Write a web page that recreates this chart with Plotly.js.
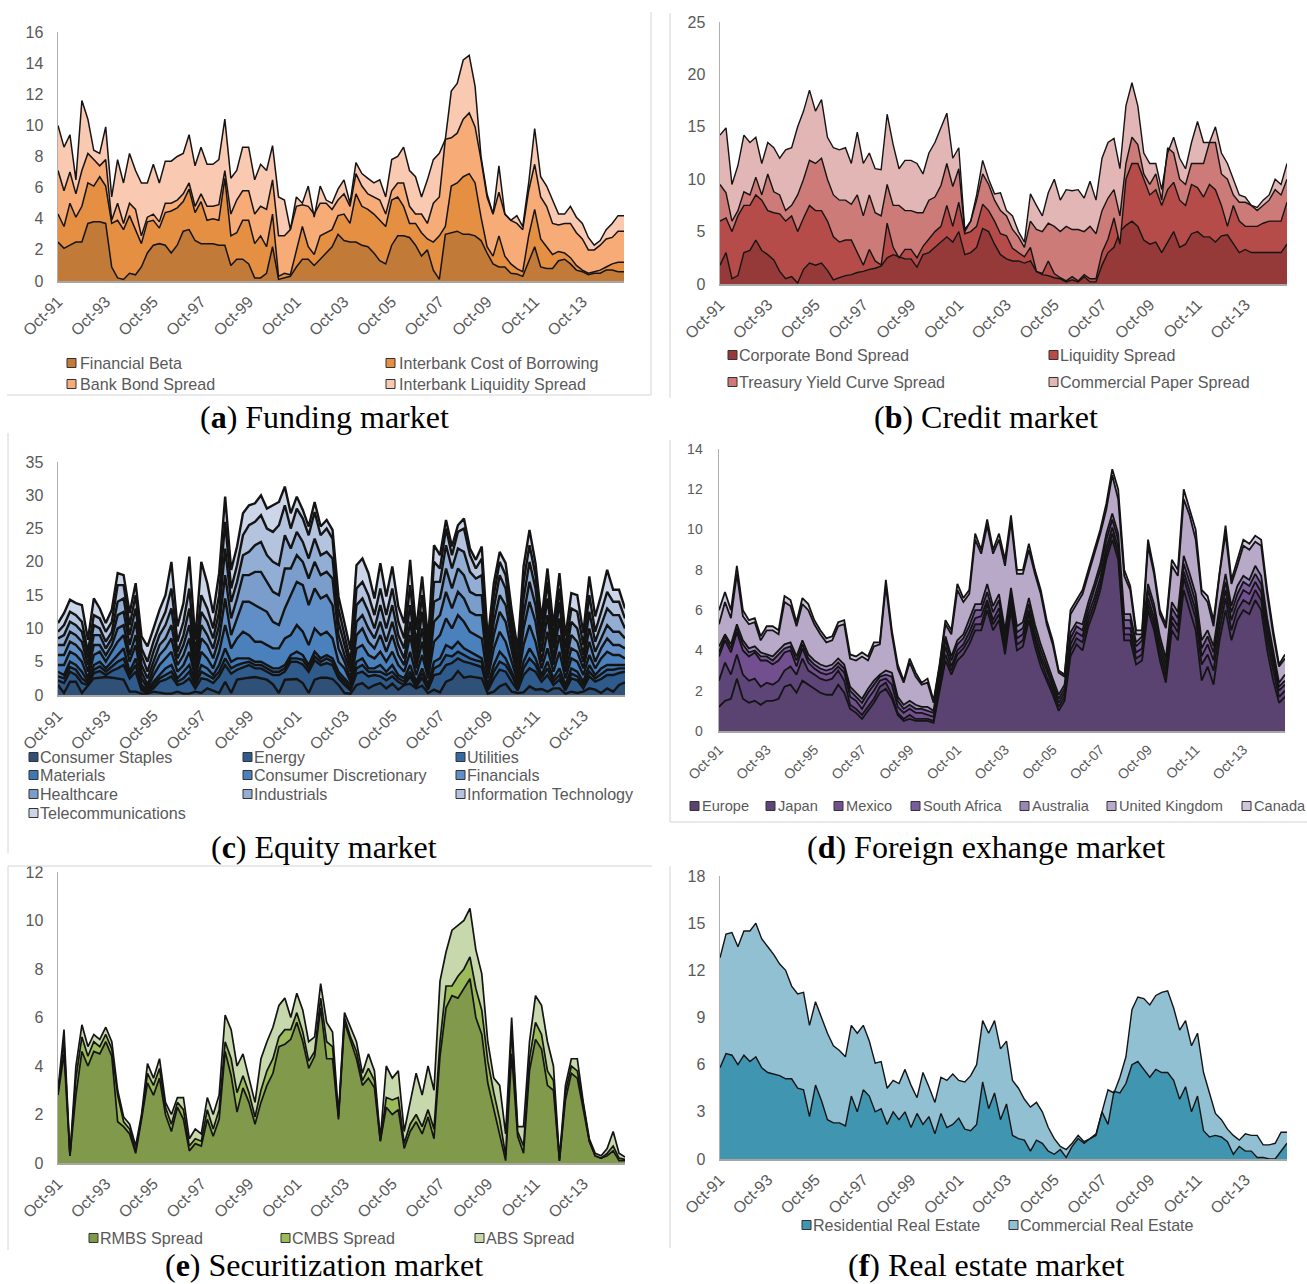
<!DOCTYPE html>
<html><head><meta charset="utf-8">
<script src="https://cdn.plot.ly/plotly-3.0.1.min.js"></script>
<style>html,body{margin:0;padding:0;background:#fff}</style></head>
<body><div id="chart" style="width:1307px;height:1284px"></div>
<script>
// Each array: cumulative height of the stack at that series' upper edge,
// one value per quarter from Oct-91 to Jul-15.
const fundingBeta=[2.5,2.1,2.3,2.5,2.5,3.7,3.8,3.8,3.7,.9,.2,.1,.5,.4,.9,1.8,2.3,2.4,2.3,1.8,2.3,3.2,3.3,2.6,2.4,2.4,2.4,2.3,2.3,1,1.4,1.4,1.1,.2,.2,.5,2.2,.1,.2,.3,.9,1.4,1.4,1,1.4,1.8,2.2,3,2.6,2.5,2.5,2.3,2.2,1.8,1.3,1.1,2.3,2.9,2.9,2.8,2.3,1.6,2,.7,.1,3,3.1,3.2,3,3,2.9,2.6,1.8,1.1,.9,.9,.5,.45,.3,1.3,2.2,.9,.8,.8,1.3,1.4,1.1,.7,.6,.4,.5,.5,.7,.7,.6,.6];
const fundingCost=[4.3,3.5,5,4.1,4.8,6.3,6.1,6.7,6.1,3.7,3.9,3.3,4.2,3.3,2.4,3.8,3.9,3.4,4.4,4.5,4.7,5.1,5.9,4.4,5.1,3.9,4,3.9,6.6,2.9,3.1,3.9,3.9,2.4,2.9,2.2,4.3,.3,.5,.4,2,3.5,2.2,1.7,2.9,3.1,3.3,4.2,4.3,3.7,5.6,4.8,4.6,4.3,3.9,3.5,5.2,5.4,4.8,3.7,3.7,3.1,2.7,2.5,2.9,3.5,6.1,6.3,6.7,6.9,6.3,4.1,2.2,1.6,2.9,1.6,1.1,.8,.6,2.9,4.6,2.7,2.2,1.7,1.9,1.8,1.5,1,.7,.5,.6,.7,.9,1.1,1.2,1.2];
const fundingBond=[7.1,5.8,7,5.6,7.1,8.2,7.8,7.4,7.8,3.9,5,3.7,5,4.6,2.9,4.1,4.3,3.8,5,5,5.2,5.6,6.3,4.8,5.6,4.8,4.8,4.9,7.1,4.3,5.2,5.8,5.8,4.3,4.8,4.6,6.5,2.9,2.9,3.3,4.8,4.9,4.8,4.3,5,5,4.6,5.2,5.6,4.8,6.9,6.1,5.6,5.4,5.2,4.3,5.8,6.3,6.3,4.8,4.3,4.3,3.7,5,5.4,9.1,9.2,9.5,10.4,10.8,9.9,7.8,5.4,4.3,5.7,4.3,3.9,3.7,3.3,5.8,7.5,5.4,4.8,3.7,3.6,3.7,3.7,3.1,2.7,2,2,2.3,2.7,2.8,3.2,3.2];
const fundingLiq=[10,8.6,9.4,6.5,11.6,10.4,8.4,8.2,9.9,5.4,7.8,6.3,8.2,7.1,6.3,6.3,7.5,6.3,7.7,7.7,8,8.2,9.4,7.4,8.6,7.5,7.5,7.8,10.4,6.6,7.1,8.6,8.6,6.5,7.5,7.1,8.7,5.4,5.2,3.3,5.4,5,6.1,4.1,6.1,5.2,5,5.9,6.5,5,7.6,6.9,6.6,6.3,6.5,5.4,7.8,8,8.6,7.1,6.7,5.4,6.5,7.8,8.2,9.1,12.2,12.7,14.2,14.5,12.5,8,5.6,4.3,7.4,4.3,3.9,4.2,3.5,6.3,9.8,6.7,6.1,5.2,4.3,4.3,4.8,4.1,3.7,2.8,2.3,2.6,3.3,3.7,4.2,4.2];

const creditCorp=[1.8,3,.5,.8,3,3.2,4.2,3.2,2.8,2.3,1.2,.5,.7,.1,1.4,2,1.8,2,1.3,.4,.6,.8,.9,1.1,1.2,1.4,1.5,1.7,2.5,2.8,2.6,2.4,2.4,1.6,2.8,3,3.5,4,4.5,4,5,2.8,3,3.5,5.3,5,3.8,2.8,2.4,2.2,2.2,2,2.2,1.2,.9,.8,.6,.5,.2,.4,.2,.7,.2,.2,1.8,3,3.5,5,5.6,6,5.5,4.2,3.8,4,3,4,5,3.5,3.8,4.8,5,4.5,4.5,4,4.6,4.7,3.8,3,3.3,3,3,3,3,3,3,3.8];
const creditLiq=[6,6.3,5,6.5,7.5,7.5,8.5,8,7,6.8,6.7,6,6.5,5,6.3,7.5,7,7,6,4.5,4,4.2,4.2,3,1.8,3.3,2.2,1.8,5.8,3.5,2.5,3.3,3.3,2.5,3.6,4.3,5,5.5,7.5,5.5,7.8,4.8,5,5.5,7.6,7,6,4.8,4.6,3.4,3,2.6,3.5,1.2,1,2.2,1,.6,.3,.7,.3,.9,.5,.5,3,4.3,6.3,3.8,10,11.5,11.5,10,8.5,9,7.5,9,9.7,8,7.5,9.5,9.2,8.3,9.5,9,7.5,5.5,7.5,6,5.5,5.5,5.5,5.8,6,6,6,7.8];
const creditTreasury=[9.5,8.7,6,7,8.8,8.5,10.2,8.5,10.5,8.8,8.5,7,7.5,8.5,10,11.8,11.5,12,10,8.5,8,8,7.6,8.5,6.5,8.5,6.8,6.5,9.5,7.5,7.5,7,7,6.8,6.8,8,8.3,9.4,11.5,9.3,11,5,6,8,10.5,9.5,8,7,6.5,5.2,4.5,3.5,6,5.2,5,5.8,5.5,5,5.5,5.2,5.2,5,5.5,4.8,7,8.2,9,6.5,11.5,14,13.3,10.5,9.5,10.5,8,13,12.5,10,9.5,11.5,11.5,11.5,13.5,13.5,10.5,10,8.5,7.8,7.8,7.5,7,7.5,8,9,8.5,10];
const creditPaper=[14.2,14.9,9.5,11.3,14.2,13.5,14,11.5,13.5,13,12,12.8,13,15,16.5,18.5,16.5,17.6,14,13,12.8,13,11.5,14.5,11.5,12.5,11,10.9,16.2,13.3,11,11.8,11.8,11.5,10.5,12.5,13.5,15,16.3,12,13,5.2,6,8.5,11.8,10,8.6,8.7,7,6.5,5,4,8.6,7.5,6.5,8.7,10,8,9,8.9,9,8.2,9.8,8,12,13.5,13.9,11,17,19.2,17,12.5,11.5,11.5,9,12.5,14,12,11,13.5,15.5,13.5,13.5,15,12.5,11.5,10,8.5,8.3,7.5,7.3,8,8.5,10,9.5,11.5];

const eqStaples=[1.5,.3,2,2,.3,1.5,2.5,2.6,2.7,2.6,2.5,2.3,.5,.5,.2,.2,.5,.3,.2,.2,.5,.2,.2,.5,.3,1,.6,.3,2,.3,2.3,2.5,2.6,2.7,2.5,2.3,1.6,.3,2.3,2.3,2.4,1.8,.3,2.3,2.6,2.6,2.4,1.5,.3,.2,1.5,1.8,1,1.5,1.8,1,1.7,.8,1.5,1.7,1,1.4,.3,.8,.4,2,2.4,3.6,2.6,2.8,2.6,2.5,.2,.5,1.3,1.7,.5,.3,.4,1.3,.8,.9,.5,1,1,.2,.5,.3,.5,1,.8,.3,1,.5,1.5,1.9];
const eqEnergy=[2.2,1.8,3.5,3,1.8,1.5,3.3,3.6,3,3.6,4,4.5,2.5,3.5,.7,.4,1,2,2.3,2.8,1.5,1.8,2.5,1,2.5,2.3,1.8,2.8,4.5,3.2,3.8,4.2,4.5,4,4,3.5,3,3,3.5,5,5,4.6,3.5,5.2,4.5,4.8,4.5,2.5,1.5,.7,3.2,3.5,2.8,3,2.8,2.2,2.8,2,1.5,2.8,1.2,2.6,.8,3,3.2,4.5,4.8,5.5,5,4.8,4.5,4.2,.7,2.5,3.8,3.5,2,.7,3,4,3.5,2,3,1.5,2.3,.7,2.5,2.2,1,2.8,2,2.4,3,3,3.3,3.5];
const eqUtilities=[2.8,2.5,4.2,3.8,2.5,1.8,3.8,4.3,3.5,4.3,5,5.5,3,4.5,1,.5,1.5,2.5,3,3.5,2,2.5,3.5,1.5,3.5,3,2.5,3.5,5.5,4,4.5,4.8,5,4.5,4.5,4,3.5,3.5,4,5.5,5.5,5.3,4,5.8,5,5.5,5,3,2,1,4,4.5,3.5,3.5,3.5,3,3.5,2.5,2,3.5,1.5,3.3,1.2,4,4.5,6,5.8,6.5,6,5.5,5.2,5,1,3.5,5,4.5,3,1,4,5.5,4.5,2.5,4,2,3,1,3.2,2.8,1.5,3.5,2.5,3.2,3.8,3.8,4,4];
const eqMaterials=[3.5,3,5,4.5,3.5,2,4.5,5,4,5,6,7,3.5,5.5,1.5,.7,2,3,4,4.5,2.5,3.5,4.5,2,4.5,4,3,4.5,7,5,5.5,5.5,5.5,5,5,4.5,4,4,4.5,6,6.5,6,4.5,6.5,5.5,6,5.5,3.5,2.5,1.5,5,5.5,4,4,4.5,3.5,4.5,3,2.5,4.5,2,4,1.5,5,5.5,7.5,7,8,7,6.5,6,5.5,1.5,4.5,6.5,5.5,3.5,1.5,5,7,5.5,3,5,2.5,4,1.5,4,3.5,2,4.5,3,4,4.5,4.5,4.5,4.5];
const eqDiscretionary=[4.5,4.5,6.5,6,5,2.5,6,6.5,5,6.5,8,9,5,7.5,2.5,1,3,4.5,5.5,6.5,3.5,4.5,6.5,2.5,6.5,5.5,4,6.5,10.5,7,8.5,9.5,9,8,8,7.5,7,7,8.5,9,10.5,9.5,7.5,10,9,9.5,8.5,5,4,2,7,7.5,6,5.5,6.5,5,6.5,4.5,3.5,6.5,3,6,2.5,8,9,11.5,10,12,11,9.5,9,8.5,2.5,7,9.5,8,5,2,7.5,10.5,8,4,7,3.5,6.5,2.5,5.5,5,3,6,4,5.5,6.5,6,6,5.5];
const eqFinancials=[6,6,8,7.5,6.5,3.5,7.5,7.5,6,7.5,10,10.5,6,9,3.5,1.5,4,6,7,8.5,4.5,6,8.5,3,8.5,7.5,5.5,8.5,14.5,9,11.5,14,14,13.5,13,12.5,11,10.5,13,15,17,16.5,13.5,16,14.5,15,13.5,7,5,2.5,9,10,8,7,9,6.5,9,6,4.5,9,4,8,3,11,12,15.5,13,15.5,14.5,12.5,12,12,3.5,9,12.5,11,6.5,2.5,10,14,11,5,9.5,4.5,9,3.5,7,6.5,4,8,5,7,8.5,7.5,7.5,7];
const eqHealthcare=[7.5,7.5,9.5,9,8,4.5,9,9,7,8.5,12,12.5,7.5,11,4.5,2.5,5,7.5,8.5,10.5,5.5,7.5,10.5,4,10.5,9,7,10.5,18,11.5,14.5,18,18,18.5,18.5,17,15.5,15,19,19,21,20,17.5,20,18,18.5,17.5,9,6,3.5,11,12,10,8.5,11,8,11,7.5,5.5,11,5,10,4,14,14.5,19,16,19,18,15.5,15,15,4.5,11,15,13.5,8,3,12,17,13.5,6.5,12,5.5,11.5,4.5,9,8,5,10,6.5,8.5,10.5,9.5,9.5,8.5];
const eqIndustrials=[8.5,9,11,10.5,9.5,5.5,10.5,10,8,9.5,14,14.5,9,13,6,3.5,6.5,9,10.5,13,6.5,9,13,5,12.5,11,8.5,12.5,22,14,17,21,21.5,22.5,23,21,20,19.5,24,22,24.5,23,20.5,23.5,21,21.5,20.5,11,7.5,4,13.5,14.5,12.5,10,13.5,10,13.5,9,7,13.5,6,12.5,5,17,17,22.5,19,22,21.5,18.5,17.5,18,5.5,13,18,16,9.5,4,14.5,20,16,8,14.5,7,14,5.5,11,10,6,12.5,8,10.5,13,12,12,10];
const eqTech=[9.5,10.5,12.5,12,11,6.5,12,11.5,9.5,11,16.5,16.5,10.5,15,7,5,8,10.5,12.5,16,8,11,16,6,15,13,10,15,26,16,19.5,24,25.5,26,27,25,24.5,25.5,28.5,25,28,26.5,24,27.5,24,25,23.5,13,9,5,16,17,15,12,16,12,16,11,8.5,16.5,7.5,15,6,20,19,25,21,24.5,25,21,19,20.5,6.5,15,20,18,11,5,17,22.5,18,9.5,17,8.5,16,7,13,12.5,7.5,15,9.5,12.5,15.5,14,14,11.5];
const eqTelecom=[10.8,12.3,14.3,13.8,13.5,8.3,14.5,13,10.8,12.8,18.3,18,12.3,16.8,8.8,7.3,10,12.8,15,20,10.3,13.8,20.8,8.3,20,16.8,12.3,18.3,29.8,18.8,22.3,27.3,28.5,28.8,30,28,28.5,29,31.3,27.3,29.8,27.8,25.3,29,25.3,26.3,24.8,14.8,10.8,6.8,19.5,20.5,18.3,14.5,19.8,14.8,19.3,13.3,10.8,20.3,9.8,17.8,8.3,22.5,21,26.3,22.3,25.5,26.5,22,20.3,22.3,8.3,16.8,21.5,19.8,12.8,6.8,19.3,24.8,19.8,11.3,19,10.3,18.3,8.8,15.3,15,9.3,17.8,11.8,15,18.8,15.8,15.8,13];

const fxEurope=[1.2,1.5,1.6,2.6,1.6,1.4,1.5,1.3,1.5,1.5,1.6,2.2,2.3,1.9,2.5,2.3,2.1,1.9,1.8,1.8,2.3,1.9,1.1,.9,.6,1,1.4,1.9,2.1,1.6,.8,.5,.6,.5,.5,.5,.4,2,3.5,2.8,3.5,3.8,4.3,5,5,6,5,5.5,3.8,6,4,4.2,5.5,4.2,3.2,2.5,1.8,1,1.5,3.7,4.3,4,5.2,6,7,8.5,9.5,8.5,4.5,4.5,3.3,3.5,6,5,3.5,2.4,5,4.5,7,6,5,2.5,3.2,2.3,4.5,6,4.5,5.5,6,5.8,6.5,6,4,2.5,1.4,1.7];
const fxJapan=[2.5,3.4,2.8,3.8,2.8,2.5,2.6,2.2,2.4,2.3,2.5,3,3.2,2.8,3.6,3,2.8,2.6,2.5,2.6,3,2.5,1.3,1.1,.8,1.2,1.6,2.2,2.4,1.8,.9,.6,.8,.6,.6,.6,.5,2.2,3.8,3,3.8,4.1,4.6,5.3,5.3,6.3,5.3,5.8,4.1,6.3,4.3,4.5,5.8,4.5,3.5,2.7,2,1.2,1.7,4,4.6,4.4,5.5,6.3,7.3,8.8,9.8,8.8,4.8,4.8,3.6,3.8,6.3,5.3,3.8,2.7,5.4,4.9,7.6,6.6,5.6,3.3,3.8,3,5,6.6,5,6,6.5,6.3,7,6.5,4.5,3,1.7,2];
const fxMexico=[3.7,4.5,3.9,4.9,4,3.7,3.9,3.5,3.5,3.3,3.5,3.9,4,3.2,4.1,3.4,3.1,2.9,2.8,2.9,3.2,2.9,1.7,1.5,1.1,1.6,2,2.5,2.6,2.3,1.2,.9,1.1,.9,.9,.8,.7,2.5,4.2,3.2,4,4.3,4.9,5.6,5.7,6.5,5.5,6.1,4.4,6.5,4.6,4.8,6,4.7,3.7,3,2.2,1.4,1.9,4.3,4.9,4.7,5.8,6.6,7.6,9.1,10.1,9.1,5.1,5.1,3.9,4.1,6.6,5.6,4.1,3,5.7,5.2,7.9,7,6,3.7,4.3,3.5,5.5,7,5.5,6.4,7,6.8,7.4,6.9,4.9,3.4,2,2.3];
const fxSouthAfrica=[3.9,4.7,4.1,5.1,4.3,3.9,4,3.7,3.7,3.5,3.8,4.1,4.2,3.5,4.3,3.6,3.3,3.1,3,3.1,3.4,3.1,2,1.7,1.4,1.9,2.3,2.7,2.8,2.7,1.5,1.1,1.3,1.1,1.1,1,.9,2.8,4.5,3.5,4.3,4.6,5.2,6,6,6.9,5.9,6.5,4.7,6.8,4.9,5.1,6.3,5,4,3.2,2.4,1.6,2.1,4.6,5.2,5,6.1,7,8,9.5,10.5,9.5,5.5,5.5,4.2,4.5,7,6,4.4,3.3,6.1,5.6,8.3,7.4,6.4,4.1,4.7,3.9,5.9,7.4,5.9,6.8,7.4,7.2,7.8,7.3,5.3,3.7,2.2,2.5];
const fxAustralia=[4.2,4.8,4.3,5.3,4.5,4.1,4.2,3.9,3.8,3.7,4,4.3,4.4,3.7,4.5,3.8,3.5,3.3,3.2,3.3,3.6,3.3,2.2,1.9,1.6,2.1,2.5,2.8,3,2.9,1.7,1.3,1.5,1.3,1.2,1.2,1,3,4.7,3.7,4.5,4.8,5.5,6.3,6.3,7.3,6.2,6.8,5,7.1,5.2,5.4,6.6,5.3,4.3,3.4,2.6,1.8,2.3,4.9,5.4,5.3,6.4,7.3,8.3,9.8,10.8,9.8,5.8,5.8,4.4,4.7,7.3,6.3,4.7,3.6,6.4,5.9,8.7,7.8,6.8,4.5,5,4.2,6.2,7.8,6.2,7.2,7.7,7.5,8.2,7.7,5.6,4,2.4,2.8];
const fxUK=[5.3,6.4,5.6,7.8,5.7,5.3,5.4,4.5,5,5,4.8,6.4,6.2,5.2,6.3,6,5.3,4.8,4.4,4.5,5.2,5.3,3.6,3.5,3.7,3.5,4.2,4.3,7.2,4.8,3.1,2.4,3.4,2.7,2.3,2.4,1.4,3.2,5.3,4.8,7,6.4,6.8,9.5,8.8,10.2,8.8,9.5,8.2,10.4,7.8,7.8,9,7.8,6.8,5.3,4.3,2.9,2.7,5.8,6.3,6.8,7.8,8.8,9.8,11,12.7,11.5,7.7,7,4.8,4.8,9.2,7.8,5.8,5.1,8.2,7.7,11.5,10.7,9.5,6.8,6.4,5.2,7.8,9.8,7.3,8.2,9.2,9,9.4,9.2,6.8,4.8,3.2,3.6];
const fxCanada=[6,6.9,6,8.2,6,5.5,5.6,4.7,5.2,5.2,5,6.7,6.5,5.4,6.6,6.3,5.5,5,4.6,4.7,5.4,5.5,3.8,3.7,3.9,3.7,4.4,4.4,7.5,5,3.3,2.5,3.6,2.9,2.4,2.6,1.5,3.3,5.5,5,7.3,6.6,7,9.8,9,10.5,9,9.8,8.5,10.7,8,8,9.3,8,7,5.5,4.5,3,2.8,6,6.5,7,8,9,10,11.3,13,12,8,7.2,5,5,9.5,8,6,5.3,8.5,8,12,11,10,7,6.7,5.5,8,10.2,7.5,8.5,9.5,9.3,9.7,9.5,7,5,3.3,3.8];

const secRMBS=[2.8,4.5,.3,2.8,4.6,4,4.6,4.5,5,4.4,1.7,1.5,1.2,.4,1.8,3.3,2.8,3.5,2,1.3,2.3,1.8,.5,.8,.7,1.8,1.1,1.8,4.6,3.6,2.1,3.1,2.5,1.6,2.5,3.2,3.7,4.8,4.9,5.1,5.8,5,3.9,4.4,6.4,4.3,4.3,1.8,5.8,5,4.3,3.2,3.5,3.1,.9,2.3,2,2.2,.6,1.3,1.7,1.2,1.9,1,4.4,6.4,6.9,6.8,7.2,7.6,6,5.3,3.3,2.2,1.2,.1,4.5,1.1,.4,3.8,5.1,4.7,3.2,3,.1,2.6,3.7,3.5,2.2,.9,.3,.2,.3,.5,.1,.1];
const secCMBS=[2.9,5,.3,3.5,5.2,4.4,5,4.8,5.3,4.7,2.8,1.7,1.4,.5,1.9,3.7,3.2,3.9,2.3,1.6,2.5,2.2,.7,1,.9,2.2,1.4,2.2,5,4.3,2.9,3.6,2.9,1.9,3,3.8,4.3,5.2,5.5,5.5,6.2,5.4,4.2,4.6,6.8,5,4.8,1.9,6,5.2,4.6,3.4,3.9,3.4,.9,2.7,2.6,2.7,.8,1.6,2,1.5,2.2,1.4,5,7.3,7.3,7.7,8,8.5,7.2,6.3,4.2,2.9,1.8,.3,5.5,1.3,.7,4.3,5.8,5.3,3.8,3.4,.1,2.9,4,3.8,2.4,.9,.3,.2,.4,.7,.2,.15];
const secABS=[3,5.5,.3,4,5.7,4.8,5.3,5.1,5.6,5,3,1.9,1.6,.7,2,4.1,3.5,4.3,2.5,2,2.7,2.7,1,1.4,1.2,2.7,2,2.8,6.1,5.5,4,4.5,3.5,2.5,4.3,5,5.6,6.5,6.8,6,7,6.3,5,5.2,7.4,5.8,5.4,2,6.2,5.6,5,3.7,4.5,3.8,1,4,3.5,3.8,1.3,2.5,3.7,2.8,4,3,7.5,8.7,9.6,9.8,10,10.5,8.8,7.8,5,3.5,3.2,1.2,6,1.5,1.5,5,6.9,6.5,5,4,.2,3.2,4.3,4.3,2.5,1,.4,.3,.6,1.3,.4,.25];

const reResidential=[5.8,6.7,6.6,6,6.6,6.2,6.5,5.8,5.5,5.4,5.3,5.1,5.1,4.5,4.4,2.7,4.7,3.7,2.5,2.3,2.3,2.1,4,3,4.4,4,3,3.2,2.2,3,2.5,3,2,2.9,2.2,2.7,1.6,2.9,2,2.2,2.6,1.9,1.8,2.2,4.9,3.2,4.2,2.5,3.5,1.5,1.3,1.2,.5,1.2,1,.5,.3,.6,.1,.8,1.3,1,1.3,1.5,3,2.2,4.3,4.2,4.8,6,6.2,5.7,5.2,5.7,5.5,5.5,5,3.8,4.6,3,4,1.8,1.4,1.5,1.4,1.1,.3,.8,.5,.5,.1,.1,0,0,.5,1];
const reCommercial=[12.8,14.3,14.4,13.5,14.5,14.5,15,14,13.5,13,12.4,12,11,10.5,10.6,8.5,10,9,8,7.2,6.9,6.5,8.5,8,8.5,7.5,6.1,6.2,4.5,5,4.8,5.7,4.7,3.9,5.5,4.6,3.6,5.2,5,5.4,5,4.9,5.3,6,8.8,8,8.8,7,7.5,5,4.5,3.8,3.3,3.6,3,2,1.3,.8,.6,1,1.5,1.1,1.3,1.6,3,4.4,4.2,5.2,6.5,9.5,10.3,10.2,9.8,10.4,10.6,10.7,9.6,8.2,8.8,7.2,8,5.5,4.2,2.9,2.5,1.9,1.5,1.2,1.6,1.5,1.5,.9,.9,1,1.7,1.7];

const fundingNames=["Financial Beta","Interbank Cost of Borrowing","Bank Bond Spread","Interbank Liquidity Spread"];
const creditNames=["Corporate Bond Spread","Liquidity Spread","Treasury Yield Curve Spread","Commercial Paper Spread"];
const equityNames=["Consumer Staples","Energy","Utilities","Materials","Consumer Discretionary","Financials","Healthcare","Industrials","Information Technology","Telecommunications"];
const fxNames=["Europe","Japan","Mexico","South Africa","Australia","United Kingdom","Canada"];
const secNames=["RMBS Spread","CMBS Spread","ABS Spread"];
const reNames=["Residential Real Estate","Commercial Real Estate"];

const panels=[
 {tops:[fundingBeta,fundingCost,fundingBond,fundingLiq],names:fundingNames,colors:["#c17a38","#e58f43","#f7ab76","#fac9b1"],
  box:[58,624,32,281],ymax:16,dtick:2,fs:16,lw:1.5,ylen:10,letter:"a",cap:"Funding market",capx:324,capy:417,
  legend:[[67,363],[386,363],[67,384],[386,384]],lfs:16.1,lo:12},
 {tops:[creditCorp,creditLiq,creditTreasury,creditPaper],names:creditNames,colors:["#953a38","#b54c49","#cc7b78","#e2b6b4"],
  box:[720,1287,22,284],ymax:25,dtick:5,fs:16,lw:1.4,ylen:10,letter:"b",cap:"Credit market",capx:986,capy:417,
  legend:[[728,355],[1049,355],[728,382],[1049,382]],lfs:16.1,lo:10},
 {tops:[eqStaples,eqEnergy,eqUtilities,eqMaterials,eqDiscretionary,eqFinancials,eqHealthcare,eqIndustrials,eqTech,eqTelecom],names:equityNames,
  colors:["#2f5178","#2f5b8c","#366aa3","#3f78b5","#4a80bb","#5f8fc6","#7a9dcb","#93aed5","#b4c3de","#ccd6e8"],
  box:[58,625,462,695],ymax:35,dtick:5,fs:16,lw:2.4,ylen:10,letter:"c",cap:"Equity market",capx:324,capy:847,
  legend:[[29,757],[243,757],[456,757],[29,775],[243,775],[456,775],[29,794],[243,794],[456,794],[29,813]],lfs:16.1,lo:10},
 {tops:[fxEurope,fxJapan,fxMexico,fxSouthAfrica,fxAustralia,fxUK,fxCanada],names:fxNames,
  colors:["#5a4371","#5e4578","#725090","#7a5b9b","#9a86b3","#b8a9c9","#d0c6dc"],
  box:[719,1285,449,731],ymax:14,dtick:2,fs:14,lw:1.8,ylen:12,letter:"d",cap:"Foreign exhange market",capx:986,capy:847,
  legend:[[690,806],[766,806],[834,806],[911,806],[1020,806],[1107,806],[1242,806]],lfs:14.6,lo:11},
 {tops:[secRMBS,secCMBS,secABS],names:secNames,colors:["#80994b","#9bbb59","#c7d8ad"],
  box:[58,625,872,1163],ymax:12,dtick:2,fs:16,lw:1.7,ylen:10,letter:"e",cap:"Securitization market",capx:324,capy:1265,
  legend:[[89,1238],[281,1238],[475,1238]],lfs:16.1,lo:10},
 {tops:[reResidential,reCommercial],names:reNames,colors:["#4096b1","#92c0d3"],
  box:[720,1287,876,1159],ymax:18,dtick:3,fs:16,lw:1.4,ylen:10,letter:"f",cap:"Real estate market",capx:986,capy:1265,
  legend:[[802,1225],[1009,1225]],lfs:16.1,lo:10}
];

const W=1307,H=1284;
const dates=[];
for(let i=0;i<96;i++){const m=9+3*i;dates.push((1991+Math.floor(m/12))+"-"+String(m%12+1).padStart(2,"0")+"-01");}
const px=v=>v/W, py=v=>1-v/H;
const traces=[],shapes=[],annotations=[];
const layout={width:W,height:H,margin:{l:0,r:0,t:0,b:0},paper_bgcolor:"#fff",plot_bgcolor:"rgba(0,0,0,0)",showlegend:false,font:{family:"Liberation Sans, Arial, sans-serif",color:"#595959"}};

panels.forEach((p,n)=>{
 const id=n+1, ax=id===1?"":String(id);
 p.tops.forEach((top,s)=>{
  const below=s?p.tops[s-1]:null;
  traces.push({x:dates,y:top.map((v,i)=>below?+(v-below[i]).toFixed(2):v),name:p.names[s],type:"scatter",mode:"lines",
   stackgroup:"g"+id,xaxis:"x"+ax,yaxis:"y"+ax,fillcolor:p.colors[s],line:{color:"#141414",width:p.lw,shape:"linear"},hoverinfo:"skip"});
 });
 layout["xaxis"+ax]={domain:[px(p.box[0]),px(p.box[1])],anchor:"y"+ax,type:"date",range:[dates[0],dates[95]],tick0:"1991-10-01",dtick:"M24",tickformat:"%b-%y",
  tickangle:-45,showgrid:false,zeroline:false,showline:true,linecolor:"#a6a6a6",linewidth:2,ticks:"outside",ticklen:3,tickcolor:"rgba(0,0,0,0)",tickfont:{size:p.fs,color:"#595959"}};
 layout["yaxis"+ax]={domain:[py(p.box[3]),py(p.box[2])],anchor:"x"+ax,range:[0,p.ymax],tick0:0,dtick:p.dtick,showgrid:false,zeroline:false,showline:true,linecolor:"#b0b0b0",linewidth:1.5,
  ticks:"outside",ticklen:p.ylen,tickcolor:"rgba(0,0,0,0)",tickfont:{size:p.fs,color:"#595959"}};
 p.legend.forEach((l,s)=>{
  shapes.push({type:"rect",xref:"paper",yref:"paper",x0:px(l[0]),x1:px(l[0]+9),y0:py(l[1]+4.5),y1:py(l[1]-4.5),fillcolor:p.colors[s],line:{color:"#333",width:1}});
  annotations.push({xref:"paper",yref:"paper",x:px(l[0]+p.lo),y:py(l[1]),xanchor:"left",yanchor:"middle",showarrow:false,text:p.names[s],font:{size:p.lfs,color:"#595959"},borderpad:0});
 });
 annotations.push({xref:"paper",yref:"paper",x:px(p.capx),y:py(p.capy),xanchor:"center",yanchor:"middle",showarrow:false,
  text:"(<b>"+p.letter+"</b>) "+p.cap,font:{family:"Liberation Serif, Times New Roman, serif",size:32,color:"#000"}});
});

// thin frame lines left over from the source figure
[[651,12,651,395],[7,395,651,395],[670,13,670,398],[8,433,8,853],[670,440,670,822],[670,822,1307,822],[8,866,652,866],[8,866,8,1250],[670,866,670,1248]].forEach(f=>{
 shapes.push({type:"line",xref:"paper",yref:"paper",x0:px(f[0]),y0:py(f[1]),x1:px(f[2]),y1:py(f[3]),line:{color:"#d4d4d4",width:1}});
});
layout.shapes=shapes;layout.annotations=annotations;
Plotly.newPlot("chart",traces,layout,{displayModeBar:false,staticPlot:true});
</script></body></html>
